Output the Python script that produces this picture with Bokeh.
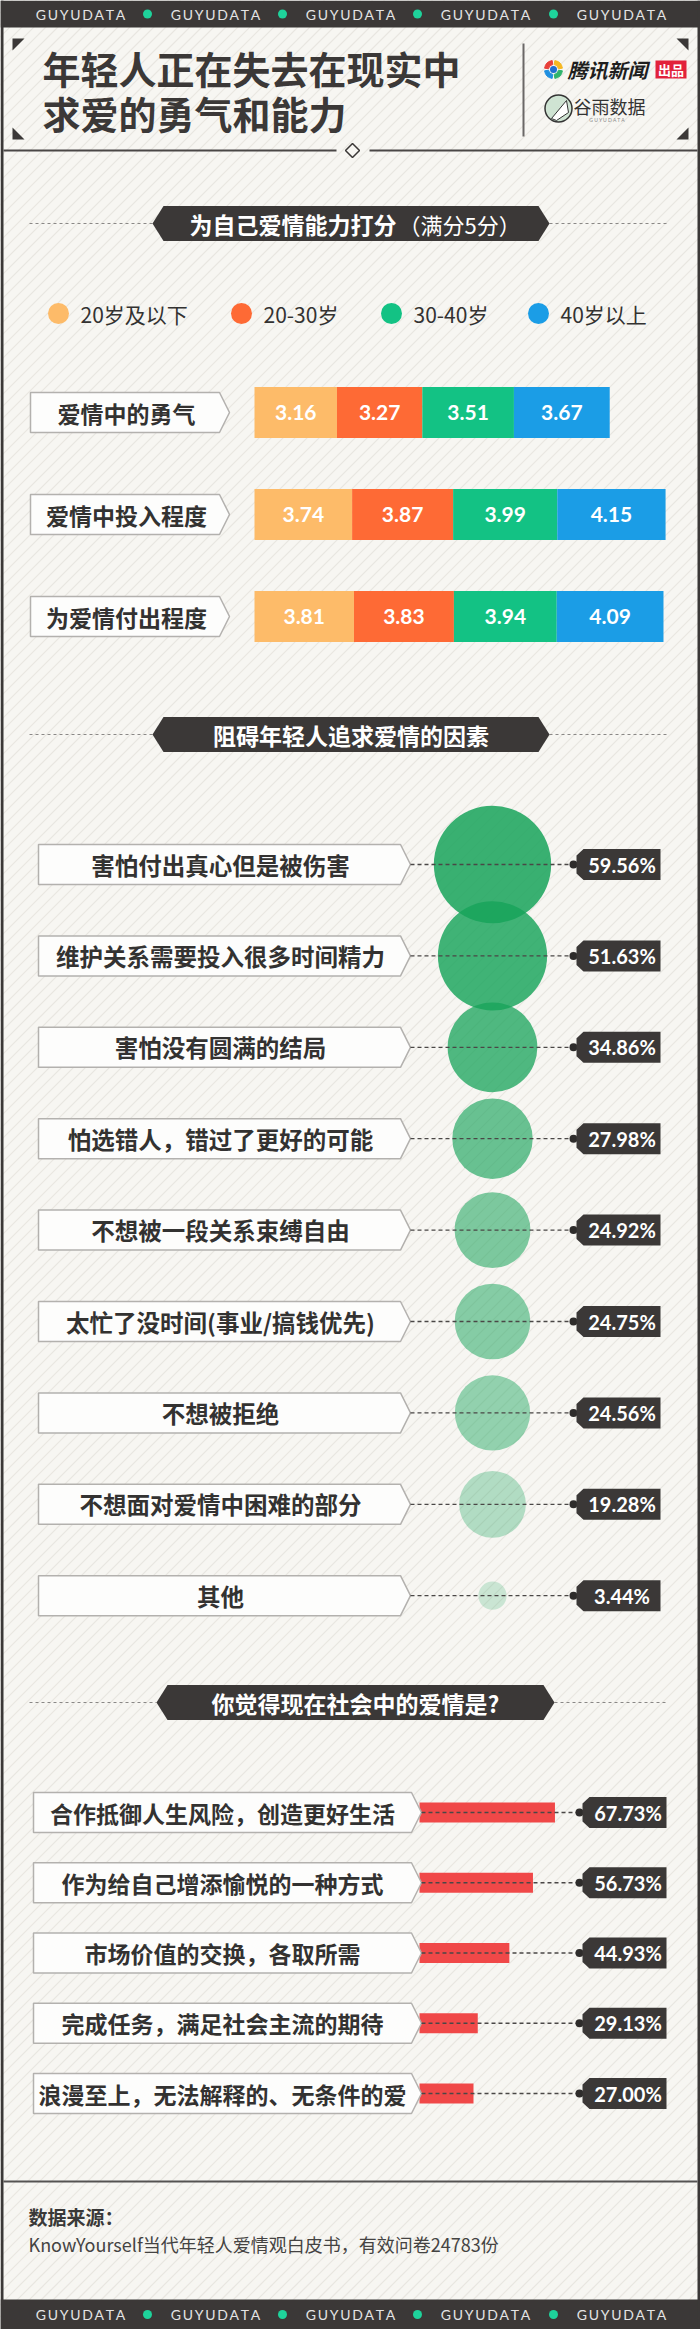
import numpy as np
from bokeh.plotting import figure
from bokeh.models import Range1d, ColumnDataSource
from bokeh.core.properties import value
from bokeh.embed import file_html
from bokeh.resources import INLINE

# ---------------- data ----------------
title_lines = ["年轻人正在失去在现实中", "求爱的勇气和能力"]

section_titles = ["为自己爱情能力打分", "阻碍年轻人追求爱情的因素", "你觉得现在社会中的爱情是?"]
section1_note = "（满分5分）"

age_groups = ["20岁及以下", "20-30岁", "30-40岁", "40岁以上"]
ability_items = ["爱情中的勇气", "爱情中投入程度", "为爱情付出程度"]
score_under20 = [3.16, 3.74, 3.81]
score_20_30 = [3.27, 3.87, 3.83]
score_30_40 = [3.51, 3.99, 3.94]
score_over40 = [3.67, 4.15, 4.09]

obstacle_items = ["害怕付出真心但是被伤害", "维护关系需要投入很多时间精力", "害怕没有圆满的结局",
                  "怕选错人，错过了更好的可能", "不想被一段关系束缚自由", "太忙了没时间(事业/搞钱优先)",
                  "不想被拒绝", "不想面对爱情中困难的部分", "其他"]
obstacle_pct = [59.56, 51.63, 34.86, 27.98, 24.92, 24.75, 24.56, 19.28, 3.44]

view_items = ["合作抵御人生风险，创造更好生活", "作为给自己增添愉悦的一种方式", "市场价值的交换，各取所需",
              "完成任务，满足社会主流的期待", "浪漫至上，无法解释的、无条件的爱"]
view_pct = [67.73, 56.73, 44.93, 29.13, 27.00]

source_title = "数据来源："
source_text = "KnowYourself当代年轻人爱情观白皮书，有效问卷24783份"
brand = "GUYUDATA"

# ---------------- styles ----------------
W, H = 700, 2329
BG = "#f7f6f2"
DARK = "#3b3837"
TXT = "#333231"
CJK = value("Noto Sans CJK SC")
NUM = value("Lato")
age_colors = ["#fdbb69", "#fe6a35", "#13c284", "#1b9de6"]
bubble_color = "#17a35a"
bubble_alpha = [0.85, 0.82, 0.75, 0.64, 0.55, 0.51, 0.45, 0.31, 0.2]
red = "#f04848"

p = figure(width=W, height=H, x_range=Range1d(0, W), y_range=Range1d(H, 0),
           output_backend="svg", toolbar_location=None, min_border=0,
           x_axis_location=None, y_axis_location=None)
p.grid.visible = False
p.outline_line_color = None
p.background_fill_color = BG
p.border_fill_color = BG

# scales for data sections
S1_LEFT, S1_SCALE = 254, 26.1
S3_LEFT, S3_SCALE = 419, 2.0
p.extra_x_ranges = {
    "score": Range1d(-S1_LEFT / S1_SCALE, (W - S1_LEFT) / S1_SCALE),
    "pct": Range1d(-S3_LEFT / S3_SCALE, (W - S3_LEFT) / S3_SCALE),
}

# ---------------- background stripes ----------------
cs = np.arange(0, W + H + 12, 12)
p.segment(x0=cs, y0=np.zeros_like(cs), x1=cs - H, y1=np.full_like(cs, H),
          line_color="#e8e6e0", line_width=1.2)

# banners and side borders
p.quad(left=[0, 0, 0, W - 3], right=[W, W, 3, W], top=[0, 2299, 0, 0], bottom=[27, H, H, H],
       fill_color=DARK, line_color=None)

dot_x = [147, 282, 417, 553]
txt_x = [80, 215, 350, 485, 621]
spaced = "\u2009".join(brand)
for yb in (13.5, 2314):
    p.text(x=txt_x, y=[yb] * 5, text=[spaced] * 5, text_font=value("Lato"), text_font_size="14px",
           text_color="#e4e4e4", text_align="center", text_baseline="middle")
    p.scatter(x=dot_x, y=[yb] * 4, size=9, fill_color="#1ed39b", line_color=None)

# ---------------- title area ----------------
tri = [([12, 24, 12], [38, 38, 50]), ([688, 676, 688], [38, 38, 50]),
       ([12, 24, 12], [139, 139, 127]), ([688, 676, 688], [139, 139, 127])]
p.patches(xs=[t[0] for t in tri], ys=[t[1] for t in tri], fill_color=DARK, line_color=None)

p.text(x=[42, 42], y=[67, 112], text=title_lines, text_font=CJK, text_font_size="38px",
       text_font_style="bold", text_color=DARK, text_align="left", text_baseline="middle")

p.segment(x0=[523], y0=[43], x1=[523], y1=[136], line_color="#6a6766", line_width=2)
p.segment(x0=[3, 369], y0=[150, 150], x1=[336, 697], y1=[150, 150], line_color="#4a4746", line_width=2)
p.patch(x=[352, 359, 352, 345], y=[143, 150, 157, 150], fill_color=BG, line_color=DARK, line_width=1.5)

# logos
ang = np.linspace(0, 2 * np.pi, 5)
p.annular_wedge(x=553, y=69, inner_radius=5, outer_radius=9, start_angle=ang[:-1] + 0.15,
                end_angle=ang[1:] - 0.15, color=["#f6b821", "#e8403a", "#1f8fe0", "#2fb36d"])
p.scatter(x=[553], y=[69], size=7, fill_color="#1f6fd0", line_color=None)
p.text(x=[567], y=[69], text=["腾讯新闻"], text_font=CJK, text_font_size="20px", text_font_style="bold italic",
       text_color="#1e1e1e", text_align="left", text_baseline="middle")
p.quad(left=[655], right=[686], top=[60], bottom=[78], fill_color="#e2223b", line_color=None)
p.text(x=[670.5], y=[69], text=["出品"], text_font=CJK, text_font_size="13px", text_font_style="bold",
       text_color="white", text_align="center", text_baseline="middle")
p.scatter(x=[558], y=[108], size=27, fill_color="#cfe4d3", line_color="#333333", line_width=1.5)
p.patch(x=[551, 566, 568, 556], y=[118, 100, 112, 120], fill_color="white", line_color="#333333", line_width=1)
p.text(x=[573], y=[105], text=["谷雨数据"], text_font=CJK, text_font_size="18px",
       text_color="#333333", text_align="left", text_baseline="middle")
p.text(x=[607], y=[119], text=["G U Y U D A T A"], text_font=value("Lato"), text_font_size="5px",
       text_color="#888888", text_align="center", text_baseline="middle")


# ---------------- helpers ----------------
def header(xl, xr, yc, title, note=None):
    h = 17.5
    p.segment(x0=[29, xr], y0=[yc, yc], x1=[xl, 668], y1=[yc, yc], line_color="#8a8886",
              line_width=1, line_dash="3 3")
    p.patch(x=[xl, xl + 11, xr - 11, xr, xr - 11, xl + 11], y=[yc, yc - h, yc - h, yc, yc + h, yc + h],
            fill_color=DARK, line_color=None)
    if note is None:
        p.text(x=[(xl + xr) / 2], y=[yc], text=[title], text_font=CJK, text_font_size="23px",
               text_font_style="bold", text_color="white", text_align="center", text_baseline="middle")
    else:
        p.text(x=[396], y=[yc], text=[title], text_font=CJK, text_font_size="23px",
               text_font_style="bold", text_color="white", text_align="right", text_baseline="middle")
        p.text(x=[398], y=[yc], text=[note], text_font=CJK, text_font_size="22px",
               text_color="white", text_align="left", text_baseline="middle")


def label_boxes(x0, x1, tip, ys, texts, tx, size="23px"):
    xs, yy = [], []
    for y in ys:
        xs.append([x0, x1, tip, x1, x0])
        yy.append([y - 20, y - 20, y, y + 20, y + 20])
    p.patches(xs=xs, ys=yy, fill_color="#fdfdfc", line_color="#b3b1ae", line_width=1.5)
    p.text(x=[tx] * len(ys), y=ys, text=texts, text_font=CJK, text_font_size=size,
           text_font_style="bold", text_color=TXT, text_align="center", text_baseline="middle")


def value_tags(tip, right, ys, vals, dash_from):
    xs, yy = [], []
    for y in ys:
        xs.append([tip, tip + 7, right, right, tip + 7, tip])
        yy.append([y - 9, y - 15.5, y - 15.5, y + 15.5, y + 15.5, y + 9])
    p.segment(x0=[dash_from] * len(ys), y0=ys, x1=[tip - 3] * len(ys), y1=ys, line_color="#4a4746",
              line_width=1.3, line_dash="4 3")
    p.scatter(x=[tip - 3] * len(ys), y=ys, size=8, fill_color="#2e2c2b", line_color=None)
    p.patches(xs=xs, ys=yy, fill_color=DARK, line_color=None)
    p.text(x=[(tip + 7 + right) / 2] * len(ys), y=ys, text=[f"{v:.2f}%" for v in vals], text_font=NUM,
           text_font_size="20px", text_font_style="bold", text_color="white", text_align="center",
           text_baseline="middle")


# ---------------- section 1 ----------------
header(152, 549, 223, section_titles[0], section1_note)

leg_x = [58, 241, 391, 538]
p.scatter(x=leg_x, y=[313] * 4, size=21, fill_color=age_colors, line_color=None)
p.text(x=[x + 22 for x in leg_x], y=[313] * 4, text=age_groups, text_font=CJK, text_font_size="21px",
       text_color=TXT, text_align="left", text_baseline="middle")

s1_y = [412, 514, 616]
label_boxes(30, 219, 229, s1_y, ability_items, 126)

series = [score_under20, score_20_30, score_30_40, score_over40]
cum = np.zeros(len(ability_items))
for ser, col in zip(series, age_colors):
    ser = np.array(ser)
    src = ColumnDataSource(dict(y=s1_y, left=cum, right=cum + ser, mid=cum + ser / 2,
                                lab=[f"{v:.2f}" for v in ser]))
    p.hbar(y="y", left="left", right="right", height=51, fill_color=col, line_color=None,
           source=src, x_range_name="score")
    p.text(x="mid", y="y", text="lab", source=src, x_range_name="score", text_font=NUM,
           text_font_size="21px", text_font_style="bold", text_color="white", text_align="center",
           text_baseline="middle")
    cum = cum + ser

# ---------------- section 2 ----------------
header(152, 549, 734, section_titles[1])
s2_y = [864 + 91.4 * i for i in range(len(obstacle_items))]
radii = [7.6 * np.sqrt(v) for v in obstacle_pct]
p.circle(x=[492] * len(s2_y), y=s2_y, radius=radii, fill_color=bubble_color, fill_alpha=bubble_alpha,
         line_color=None)
label_boxes(38, 400, 410, s2_y, obstacle_items, 220, "23.5px")
value_tags(576, 660, s2_y, obstacle_pct, 410)

# ---------------- section 3 ----------------
header(156, 554, 1702, section_titles[2])
s3_y = [1812 + 70.25 * i for i in range(len(view_items))]
p.hbar(y=s3_y, left=0, right=view_pct, height=20, fill_color=red, line_color=None, x_range_name="pct")
label_boxes(33, 411, 421, s3_y, view_items, 222, "23px")
value_tags(582, 666, s3_y, view_pct, 421)

# ---------------- footer ----------------
p.segment(x0=[3], y0=[2181], x1=[697], y1=[2181], line_color="#555352", line_width=2)
p.text(x=[28], y=[2216], text=[source_title], text_font=CJK, text_font_size="19px", text_font_style="bold",
       text_color="#3a3938", text_align="left", text_baseline="middle")
p.text(x=[28], y=[2243], text=[source_text], text_font=CJK, text_font_size="18px",
       text_color="#444342", text_align="left", text_baseline="middle")

open("out.html", "w").write(file_html(p, INLINE))
